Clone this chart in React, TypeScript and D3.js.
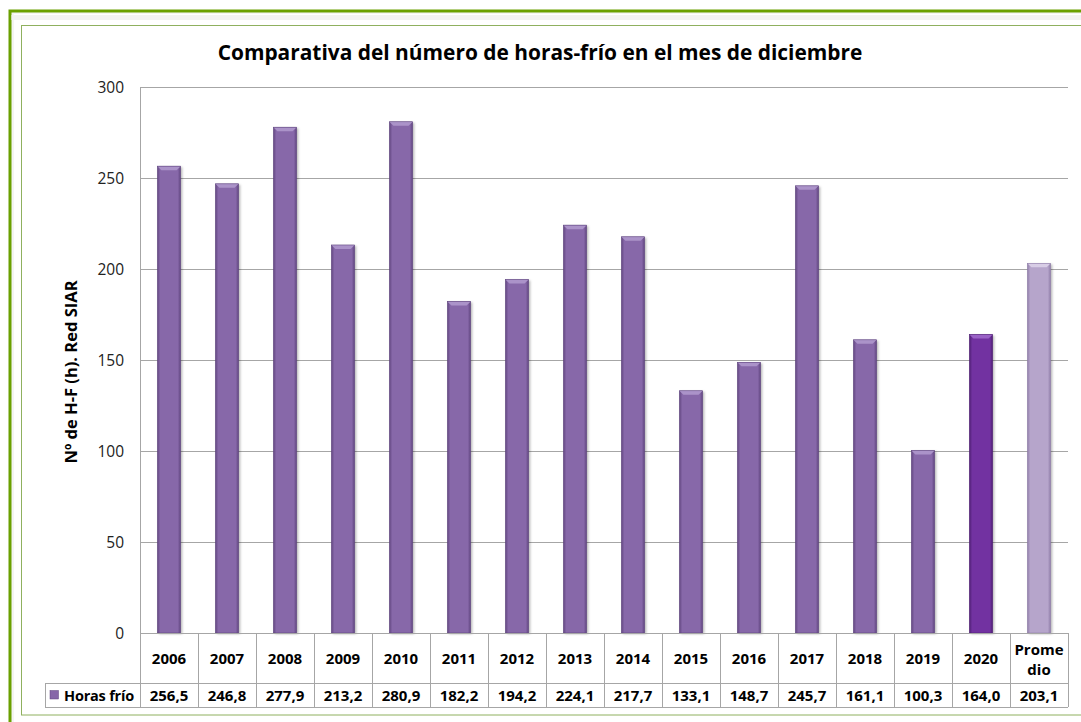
import React from "react";
import * as d3 from "d3";

const categories = ["2006","2007","2008","2009","2010","2011","2012","2013","2014","2015","2016","2017","2018","2019","2020","Promedio"];
const headerLabels = ["2006","2007","2008","2009","2010","2011","2012","2013","2014","2015","2016","2017","2018","2019","2020","Prome|dio"];
const values = [256.5,246.8,277.9,213.2,280.9,182.2,194.2,224.1,217.7,133.1,148.7,245.7,161.1,100.3,164.0,203.1];
const valueLabels = ["256,5","246,8","277,9","213,2","280,9","182,2","194,2","224,1","217,7","133,1","148,7","245,7","161,1","100,3","164,0","203,1"];
const yTicks = [0,50,100,150,200,250,300];
const seriesName = "Horas frío";
const title = "Comparativa del número de horas-frío en el mes de diciembre";
const yTitle = "Nº de H-F (h). Red SIAR";

const palettes: Record<string, { main: string; dark: string; light: string }> = {
  normal: { main: "#8767a9", dark: "#5f457f", light: "#ab93c9" },
  current: { main: "#7232a1", dark: "#4e1f73", light: "#9a62c6" },
  avg: { main: "#b6a5cb", dark: "#8f7da8", light: "#d8cde6" },
};

export default function App() {
  const W = 1081, H = 722;
  const x0 = 140, x1 = 1068, yTop = 87, yBot = 633;
  const x = d3.scaleBand<string>().domain(categories).range([x0, x1]).paddingInner(0).paddingOuter(0);
  const y = d3.scaleLinear().domain([0, 300]).range([yBot, yTop]);
  const bw = x.bandwidth() * 0.4;
  const font = "'Open Sans', Lato, sans-serif";
  const rowH1 = 683, rowH2 = 707, legendLeft = 45;
  const tfs = 15;

  const paletteFor = (i: number) => (i === categories.length - 1 ? "avg" : i === categories.length - 2 ? "current" : "normal");

  return (
    <svg width={W} height={H} style={{ position: "absolute", left: 0, top: 0, display: "block" }} fontFamily={font}>
      <defs>
        {Object.entries(palettes).map(([k, p]) => (
          <linearGradient key={k} id={`g-${k}`} x1="0" x2="1" y1="0" y2="0">
            <stop offset="0" stopColor={p.dark} />
            <stop offset="0.12" stopColor={p.main} />
            <stop offset="0.88" stopColor={p.main} />
            <stop offset="1" stopColor={p.dark} />
          </linearGradient>
        ))}
        <filter id="shadow" x="-30%" y="-10%" width="160%" height="120%">
          <feDropShadow dx="1.5" dy="1" stdDeviation="1.2" floodColor="#000" floodOpacity="0.3" />
        </filter>
      </defs>
      <rect x={0} y={0} width={W} height={H} fill="#ffffff" />
      {/* outer frame */}
      <rect x={10} y={11} width={W + 20} height={H + 20} fill="#f4f4f4" stroke="#6aa000" strokeWidth={3} />
      <rect x={14} y={14} width={W} height={H} fill="#ffffff" />
      <rect x={11.5} y={15} width={W} height={5} fill="#f2f2f2" />
      <rect x={21.5} y={25.5} width={W + 10} height={715 - 25.5} fill="#ffffff" stroke="#8fb05e" strokeWidth={1} />

      {/* title */}
      <text x={540} y={60} textAnchor="middle" fontSize={20.9} fontWeight="bold" fill="#000">{title}</text>

      {/* y axis title */}
      <text transform={`translate(${77},${372}) rotate(-90)`} textAnchor="middle" fontSize={16.5} fontWeight="bold" fill="#000">{yTitle}</text>

      {/* gridlines */}
      {yTicks.filter((t) => t > 0).map((t) => (
        <line key={t} x1={x0} x2={x1} y1={Math.round(y(t)) + 0.5} y2={Math.round(y(t)) + 0.5} stroke="#a6a6a6" strokeWidth={1} />
      ))}
      <line x1={x0 + 0.5} x2={x0 + 0.5} y1={yTop} y2={yBot} stroke="#a6a6a6" />

      {/* y tick labels */}
      {yTicks.map((t) => (
        <text key={t} x={124} y={y(t) + 5.5} textAnchor="end" fontSize={15.5} fill="#222">{t}</text>
      ))}

      {/* bars */}
      {categories.map((c, i) => {
        const p = palettes[paletteFor(i)];
        const cx = (x(c) as number) + x.bandwidth() / 2;
        const bx = cx - bw / 2;
        const by = y(values[i]);
        const bh = yBot - by;
        const bev = 4;
        return (
          <g key={c}>
            <rect x={bx} y={by} width={bw} height={bh} fill={`url(#g-${paletteFor(i)})`} filter="url(#shadow)" />
            <polygon points={`${bx},${by} ${bx + bw},${by} ${bx + bw - bev},${by + bev} ${bx + bev},${by + bev}`} fill={p.light} />
            <rect x={bx} y={by} width={bw} height={bh} fill="none" stroke={p.dark} strokeWidth={0.6} />
          </g>
        );
      })}

      {/* data table */}
      <line x1={x0} x2={x1} y1={yBot + 0.5} y2={yBot + 0.5} stroke="#a6a6a6" />
      <line x1={legendLeft} x2={x1} y1={rowH1 + 0.5} y2={rowH1 + 0.5} stroke="#a6a6a6" />
      <line x1={legendLeft} x2={x1} y1={rowH2 + 0.5} y2={rowH2 + 0.5} stroke="#a6a6a6" />
      <line x1={legendLeft + 0.5} x2={legendLeft + 0.5} y1={rowH1} y2={rowH2} stroke="#a6a6a6" />
      {categories.map((c) => (
        <line key={c} x1={Math.round(x(c) as number) + 0.5} x2={Math.round(x(c) as number) + 0.5} y1={yBot} y2={rowH2} stroke="#a6a6a6" />
      ))}
      <line x1={x1 + 0.5} x2={x1 + 0.5} y1={yBot} y2={rowH2} stroke="#a6a6a6" />
      {categories.map((c, i) => {
        const cx = (x(c) as number) + x.bandwidth() / 2;
        const parts = headerLabels[i].split("|");
        return (
          <g key={c}>
            {parts.length === 1 ? (
              <text x={cx} y={664} textAnchor="middle" fontSize={tfs} fontWeight="bold" fill="#000">{parts[0]}</text>
            ) : (
              parts.map((s, k) => (
                <text key={k} x={cx} y={655 + k * 20} textAnchor="middle" fontSize={tfs} fontWeight="bold" fill="#000">{s}</text>
              ))
            )}
            <text x={cx} y={700.5} textAnchor="middle" fontSize={tfs} fontWeight="bold" fill="#000">{valueLabels[i]}</text>
          </g>
        );
      })}
      <rect x={50} y={690.5} width={8.5} height={8.5} fill={palettes.normal.main} stroke={palettes.normal.dark} strokeWidth={0.5} />
      <text x={64} y={700.5} fontSize={14.5} fontWeight="bold" fill="#000" letterSpacing={-0.2}>{seriesName}</text>
    </svg>
  );
}
